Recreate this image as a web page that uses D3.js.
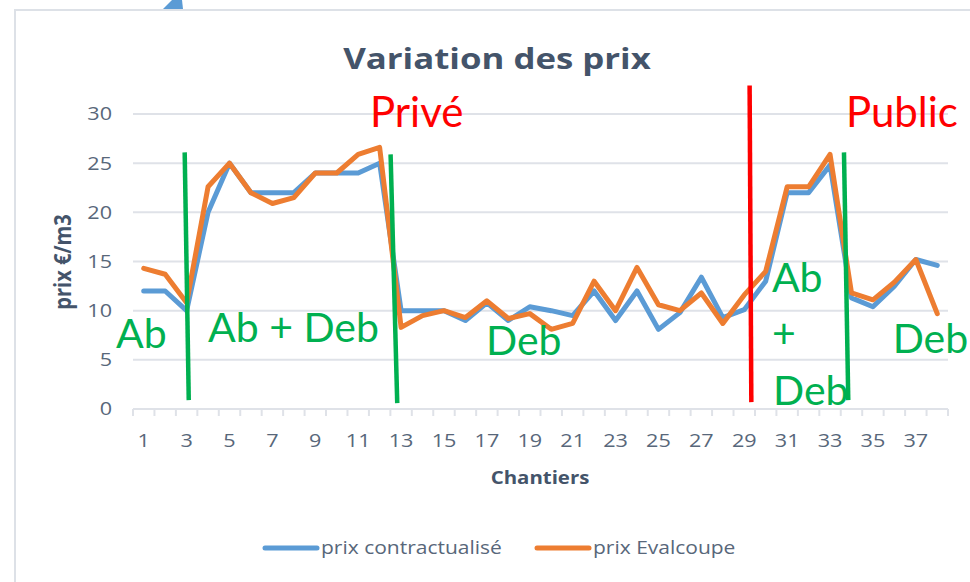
<!DOCTYPE html>
<html>
<head>
<meta charset="utf-8">
<script src="https://cdn.jsdelivr.net/npm/d3@7"></script>
<style>
  body { margin: 0; background: #fff; }
  svg { display: block; font-family: "Open Sans", "Liberation Sans", sans-serif; }
  .anno { font-family: Lato, "Liberation Sans", sans-serif; }
</style>
</head>
<body>
<svg id="chart" width="970" height="582"></svg>
<script>
// Categories (chantiers) and the two price series
const chantiers = [1, 2, 3, 4, 5, 6, 7, 8, 9, 10, 11, 12, 13, 14, 15, 16, 17, 18, 19,
  20, 21, 22, 23, 24, 25, 26, 27, 28, 29, 30, 31, 32, 33, 34, 35, 36, 37, 38];
const prixContractualise = [12, 12, 10, 20, 25, 22, 22, 22, 24, 24, 24, 25, 10, 10, 10, 9, 10.8, 9, 10.4,
  10, 9.5, 12, 9, 12, 8.1, 9.8, 13.4, 9.3, 10.1, 13, 22, 22, 24.8, 11.3, 10.4, 12.5, 15.2, 14.6];
const prixEvalcoupe = [14.3, 13.7, 10.8, 22.6, 25, 22, 20.9, 21.5, 24, 24, 25.9, 26.6, 8.3, 9.5, 10, 9.3, 11, 9.2, 9.7,
  8.1, 8.7, 13, 10, 14.4, 10.6, 10, 11.8, 8.7, 11.6, 14, 22.6, 22.6, 25.9, 11.8, 11.1, 12.9, 15.2, 9.7];
const yTicks = [0, 5, 10, 15, 20, 25, 30];
const xTickLabels = [1, 3, 5, 7, 9, 11, 13, 15, 17, 19, 21, 23, 25, 27, 29, 31, 33, 35, 37];
const seriesNames = ['prix contractualisé', 'prix Evalcoupe'];

// Hand-drawn annotations, in data units (category, value)
const GREEN = '#00b050', RED = '#ff0000';
const annoLines = [
  { c1: 2.91, v1: 26.1, c2: 3.10, v2: 0.9, color: GREEN },
  { c1: 12.51, v1: 25.9, c2: 12.82, v2: 0.6, color: GREEN },
  { c1: 29.25, v1: 32.9, c2: 29.33, v2: 0.7, color: RED },
  { c1: 33.65, v1: 26.1, c2: 33.85, v2: 0.9, color: GREEN }
];
const annoTexts = [
  { text: 'Ab', c: -0.29, v: 6.2, color: GREEN },
  { text: 'Ab + Deb', c: 4.0, v: 6.8, color: GREEN },
  { text: 'Deb', c: 16.96, v: 5.5, color: GREEN },
  { text: 'Ab', c: 30.29, v: 11.9, color: GREEN },
  { text: '+', c: 30.29, v: 6.2, color: GREEN },
  { text: 'Deb', c: 30.34, v: 0.4, color: GREEN },
  { text: 'Deb', c: 35.92, v: 5.7, color: GREEN },
  { text: 'Privé', c: 11.55, v: 28.7, color: RED },
  { text: 'Public', c: 33.74, v: 28.7, color: RED }
];

const COLORS = ['#5b9bd5', '#ed7d31'];
const TEXT = '#44546a', LABEL = '#58677a', GRID = '#dfe2e8';
// the pasted chart is slightly stretched sideways
const STRETCH = 1.2;
const at = (px, py) => `translate(${px},${py}) scale(${STRETCH},1)`;

const svg = d3.select('#chart');

// Frame of the pasted chart
svg.append('path')
  .attr('d', 'M15,582 V10 H970')
  .attr('fill', 'none')
  .attr('stroke', '#dde1e7')
  .attr('stroke-width', 2);

// Tip of a blue arrow at the very top
svg.append('path')
  .attr('d', 'M163,9 L172,0 L182,0 L183,9 Z')
  .attr('fill', '#5b9bd5');

// Scales
const x = d3.scaleBand().domain(chantiers).range([133, 948]);
const y = d3.scaleLinear().domain([0, 30]).range([409, 114]);
const cx = c => x(1) + x.bandwidth() / 2 + (c - 1) * x.step();

// Gridlines
svg.append('g')
  .selectAll('line')
  .data(yTicks.filter(d => d > 0))
  .enter().append('line')
  .attr('x1', 133).attr('x2', 948)
  .attr('y1', d => y(d)).attr('y2', d => y(d))
  .attr('stroke', GRID)
  .attr('stroke-width', 2);

// Y axis labels
svg.append('g')
  .selectAll('text')
  .data(yTicks)
  .enter().append('text')
  .attr('transform', d => at(112, y(d)))
  .attr('dy', '0.36em')
  .attr('text-anchor', 'end')
  .attr('font-size', '18px')
  .attr('fill', LABEL)
  .text(d => d);

// X axis line with tick marks between categories
const xAxis = svg.append('g');
xAxis.append('line')
  .attr('x1', 133).attr('x2', 948)
  .attr('y1', y(0)).attr('y2', y(0))
  .attr('stroke', GRID)
  .attr('stroke-width', 2);
xAxis.selectAll('.tick-mark')
  .data(chantiers.concat([39]))
  .enter().append('line')
  .attr('class', 'tick-mark')
  .attr('x1', d => d === 39 ? 948 : x(d))
  .attr('x2', d => d === 39 ? 948 : x(d))
  .attr('y1', y(0)).attr('y2', y(0) + 7)
  .attr('stroke', GRID)
  .attr('stroke-width', 2);
xAxis.selectAll('.tick-label')
  .data(xTickLabels)
  .enter().append('text')
  .attr('class', 'tick-label')
  .attr('transform', d => at(x(d) + x.bandwidth() / 2, 447))
  .attr('text-anchor', 'middle')
  .attr('font-size', '18px')
  .attr('fill', LABEL)
  .text(d => d);

// Titles
svg.append('text')
  .attr('transform', at(497, 69))
  .attr('text-anchor', 'middle')
  .attr('font-size', '29px')
  .attr('font-weight', 'bold')
  .attr('fill', TEXT)
  .text('Variation des prix');

svg.append('text')
  .attr('transform', at(540, 484))
  .attr('text-anchor', 'middle')
  .attr('font-size', '17px')
  .attr('font-weight', 'bold')
  .attr('fill', TEXT)
  .text('Chantiers');

svg.append('text')
  .attr('transform', at(71, 262) + ' rotate(-90)')
  .attr('text-anchor', 'middle')
  .attr('font-size', '20px')
  .attr('font-weight', 'bold')
  .attr('fill', TEXT)
  .text('prix €/m3');

// Series lines
const line = d3.line()
  .x((d, i) => x(chantiers[i]) + x.bandwidth() / 2)
  .y(d => y(d));

svg.append('g')
  .selectAll('path')
  .data([prixContractualise, prixEvalcoupe])
  .enter().append('path')
  .attr('d', line)
  .attr('fill', 'none')
  .attr('stroke', (d, i) => COLORS[i])
  .attr('stroke-width', 5)
  .attr('stroke-linejoin', 'round')
  .attr('stroke-linecap', 'round');

// Legend
const legend = svg.append('g');
const legendX = [263, 535];
legend.selectAll('line')
  .data(seriesNames)
  .enter().append('line')
  .attr('x1', (d, i) => legendX[i] + 2).attr('x2', (d, i) => legendX[i] + 54)
  .attr('y1', 548).attr('y2', 548)
  .attr('stroke', (d, i) => COLORS[i])
  .attr('stroke-width', 5)
  .attr('stroke-linecap', 'round');
legend.selectAll('text')
  .data(seriesNames)
  .enter().append('text')
  .attr('transform', (d, i) => at(legendX[i] + 58, 548))
  .attr('dy', '0.35em')
  .attr('font-size', '17.5px')
  .attr('fill', LABEL)
  .text(d => d);

// Annotations drawn over the chart
svg.append('g')
  .selectAll('line')
  .data(annoLines)
  .enter().append('line')
  .attr('x1', d => cx(d.c1)).attr('y1', d => y(d.v1))
  .attr('x2', d => cx(d.c2)).attr('y2', d => y(d.v2))
  .attr('stroke', d => d.color)
  .attr('stroke-width', 4.5);

svg.append('g')
  .attr('class', 'anno')
  .selectAll('text')
  .data(annoTexts)
  .enter().append('text')
  .attr('x', d => cx(d.c))
  .attr('y', d => y(d.v))
  .attr('font-size', d => d.color === RED ? '42px' : '41px')
  .attr('fill', d => d.color)
  .text(d => d.text);
</script>
</body>
</html>
